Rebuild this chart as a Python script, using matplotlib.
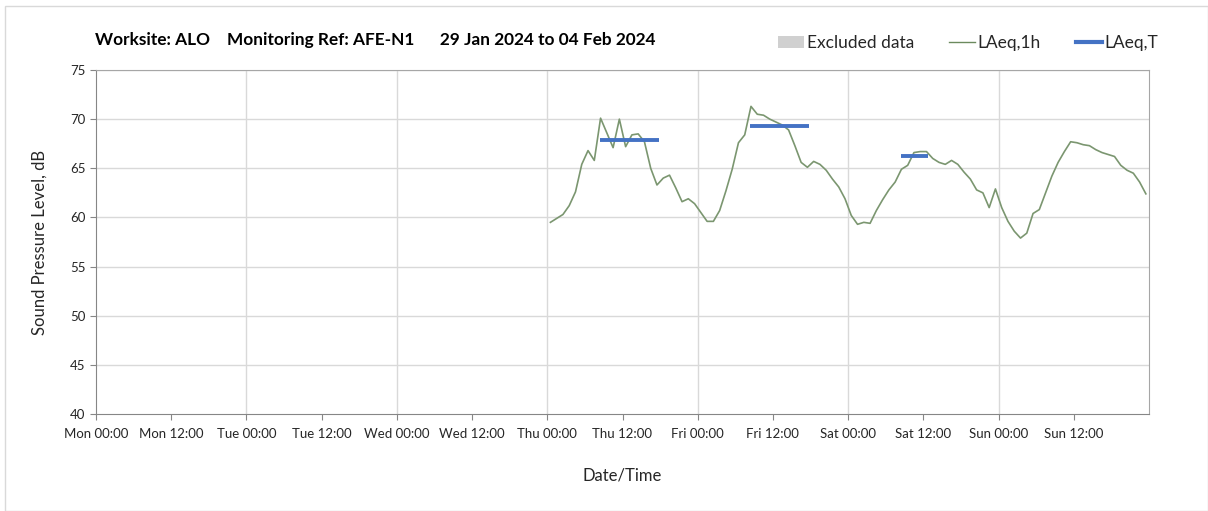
import matplotlib
matplotlib.use("Agg")
import matplotlib.pyplot as plt
from matplotlib.patches import Patch, Rectangle
from matplotlib.lines import Line2D

plt.rcParams['font.family'] = ['Lato', 'DejaVu Sans']

# hours since Mon 29 Jan 2024 00:00
tick_hours = list(range(0, 168, 12))
tick_labels = ["Mon 00:00", "Mon 12:00", "Tue 00:00", "Tue 12:00", "Wed 00:00", "Wed 12:00",
               "Thu 00:00", "Thu 12:00", "Fri 00:00", "Fri 12:00", "Sat 00:00", "Sat 12:00",
               "Sun 00:00", "Sun 12:00"]

# hourly LAeq,1h, first value at Thu 00:30
laeq_start = 72.5
laeq_1h = [59.5, 59.9, 60.3, 61.2, 62.6, 65.4, 66.8, 65.8, 70.1, 68.6, 67.1, 70.0,
           67.2, 68.4, 68.5, 67.7, 65.0, 63.3, 64.0, 64.3, 63.0, 61.6, 61.9, 61.4,
           60.5, 59.6, 59.6, 60.7, 62.7, 64.9, 67.6, 68.4, 71.3, 70.5, 70.4, 70.0,
           69.7, 69.4, 68.9, 67.3, 65.6, 65.1, 65.7, 65.4, 64.8, 63.9, 63.1, 61.9,
           60.2, 59.3, 59.5, 59.4, 60.7, 61.8, 62.8, 63.6, 64.9, 65.3, 66.6, 66.7,
           66.7, 66.0, 65.6, 65.4, 65.8, 65.4, 64.6, 63.9, 62.8, 62.5, 61.0, 62.9,
           61.0, 59.6, 58.6, 57.9, 58.4, 60.4, 60.8, 62.5, 64.2, 65.6, 66.7, 67.7,
           67.6, 67.4, 67.3, 66.9, 66.6, 66.4, 66.2, 65.3, 64.8, 64.5, 63.6, 62.4]
laeq_1h_hours = [laeq_start + i for i in range(len(laeq_1h))]

# LAeq,T periods (start hour, end hour, level)
t_start = [80.4, 104.4, 128.4]
t_end = [89.8, 113.7, 132.7]
t_level = [67.9, 69.3, 66.2]

fig = plt.figure(figsize=(12.08, 5.11), dpi=100)
ax = fig.add_axes([96/1208, 1 - 414/511, (1149 - 96)/1208, (414 - 70)/511])

ax.plot(laeq_1h_hours, laeq_1h, color="#7b9670", lw=1.2, zorder=3)
ax.hlines(t_level, t_start, t_end, color="#4472c4", lw=2.8, zorder=4)

ax.set_xlim(0, 168)
ax.set_ylim(40, 75)
ax.set_xticks(tick_hours)
ax.set_xticklabels(tick_labels)
ax.set_yticks(range(40, 76, 5))

ax.grid(False)
for v in range(45, 76, 5):
    ax.axhline(v, color="#d9d9d9", lw=1, zorder=1)
for h in range(24, 168, 24):
    ax.axvline(h, color="#d9d9d9", lw=1, zorder=1)

for s in ["left", "bottom"]:
    ax.spines[s].set_color("#868686")
for s in ["top", "right"]:
    ax.spines[s].set_color("#a6a6a6")
ax.tick_params(axis="both", direction="out", length=4, color="#868686",
               labelsize=9.5, labelcolor="#262626")
ax.tick_params(axis="x", pad=6)

ax.set_ylabel("Sound Pressure Level, dB", fontsize=12, color="#262626", labelpad=16)
ax.set_xlabel("Date/Time", fontsize=12, color="#262626", labelpad=20)

fig.text(95/1208, 1 - 40/511, "Worksite: ALO    Monitoring Ref: AFE-N1      29 Jan 2024 to 04 Feb 2024",
         fontsize=12.4, fontweight="bold", color="#000000", va="center", ha="left")

handles = [Patch(facecolor="#d0d0d0", edgecolor="none"),
           Line2D([0], [0], color="#6b8a5e", lw=1.0),
           Line2D([0], [0], color="#4472c4", lw=3)]
fig.legend(handles, ["Excluded data", "LAeq,1h", "LAeq,T"], loc="center right",
           bbox_to_anchor=(1158/1208, 1 - 43/511), ncol=3, frameon=False,
           fontsize=12.5, handlelength=1.5, handletextpad=0.15, columnspacing=2.0,
           labelcolor="#262626", borderpad=0, borderaxespad=0)

fig.patches.append(Rectangle((5/1208, 0), 1 - 5/1208, 1 - 6/511, transform=fig.transFigure,
                             fill=False, edgecolor="#d9d9d9", lw=1))

fig.savefig("out.png", dpi=100)
